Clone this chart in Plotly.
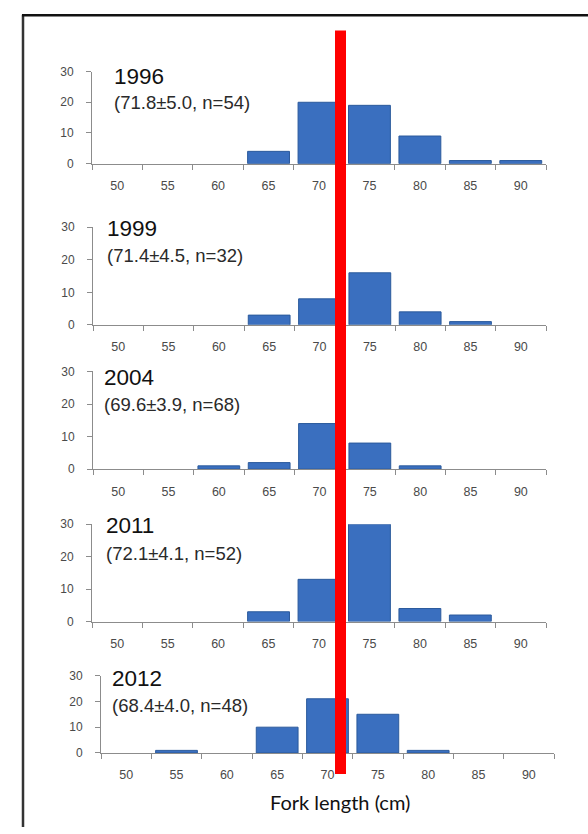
import plotly.graph_objects as go

W, H = 588, 834

# Fork-length bins (cm) and counts per survey year
length_bins = [50, 55, 60, 65, 70, 75, 80, 85, 90]
tick_labels = ["50", "55", "60", "65", "70", "75", "80", "85", "90"]
count_ticks = [0, 10, 20, 30]
years = ["1996", "1999", "2004", "2011", "2012"]
summaries = [
    "(71.8±5.0, n=54)",
    "(71.4±4.5, n=32)",
    "(69.6±3.9, n=68)",
    "(72.1±4.1, n=52)",
    "(68.4±4.0, n=48)",
]
counts_1996 = [0, 0, 0, 4, 20, 19, 9, 1, 1]
counts_1999 = [0, 0, 0, 3, 8, 16, 4, 1, 0]
counts_2004 = [0, 0, 1, 2, 14, 8, 1, 0, 0]
counts_2011 = [0, 0, 0, 3, 13, 30, 4, 2, 0]
counts_2012 = [0, 1, 0, 10, 21, 15, 1, 0, 0]
series = [counts_1996, counts_1999, counts_2004, counts_2011, counts_2012]

# panel boxes in pixels: left, right, top (value 30), bottom (value 0)
panels = [
    (92, 546, 65.7, 159.3),
    (93, 546, 224.0, 323.3),
    (93, 546, 370.7, 470.0),
    (92, 546, 526.0, 625.0),
    (101, 554, 680.0, 758.7),
]
# label positions: left x, year centre y, summary centre y
labels_pos = [
    (112, 70.5, 97),
    (105, 225, 252.5),
    (102, 376.5, 404),
    (104, 527.5, 555.5),
    (110, 682.5, 710),
]

half = (length_bins[1] - length_bins[0]) / 2
bin_edges = [b - half for b in length_bins] + [length_bins[-1] + half]

AXIS = "#8c8c8c"
BAR = "#3a6fbf"
BAR_EDGE = "#2b5a9c"
TICK_FONT = "#4a4a4a"

fig = go.Figure()
layout = dict(
    width=W,
    height=H,
    margin=dict(l=0, r=0, t=0, b=0),
    paper_bgcolor="white",
    plot_bgcolor="rgba(0,0,0,0)",
    showlegend=False,
    bargap=0.17,
    font=dict(family="Liberation Sans, Arial, sans-serif", color="#444"),
)

annotations = []
n_panels = len(series)
for i, (vals, (xl, xr, yt, yb)) in enumerate(zip(series, panels)):
    n = "" if i == 0 else str(i + 1)
    lab = str(i + 1 + n_panels)
    fig.add_trace(go.Bar(
        x=length_bins, y=vals,
        xaxis="x" + n, yaxis="y" + n,
        marker=dict(color=BAR,
                    line=dict(color=BAR_EDGE, width=[1 if v else 0 for v in vals])),
        hoverinfo="x+y",
    ))
    # axis with tick marks on the bin boundaries
    layout["xaxis" + n] = dict(
        domain=[xl / W, xr / W],
        anchor="y" + n,
        range=[bin_edges[0], bin_edges[-1]],
        tickmode="array", tickvals=bin_edges, ticktext=[""] * len(bin_edges),
        ticks="outside", ticklen=5, tickcolor=AXIS, tickwidth=1,
        showline=True, linecolor=AXIS, linewidth=1,
        showgrid=False, zeroline=False, fixedrange=True,
    )
    # companion axis carrying the bin labels at the bin centres
    layout["xaxis" + lab] = dict(
        domain=[xl / W, xr / W],
        anchor="y" + n,
        overlaying="x" + n,
        side="bottom",
        range=[bin_edges[0], bin_edges[-1]],
        tickmode="array", tickvals=length_bins, ticktext=tick_labels,
        ticks="", ticklabelstandoff=13,
        tickfont=dict(size=12.5, color=TICK_FONT),
        showline=False, showgrid=False, zeroline=False, fixedrange=True,
    )
    fig.add_trace(go.Scatter(
        x=[length_bins[0]], y=[0], xaxis="x" + lab, yaxis="y" + n,
        mode="markers", marker=dict(opacity=0), hoverinfo="skip",
    ))
    layout["yaxis" + n] = dict(
        domain=[1 - yb / H, 1 - yt / H],
        anchor="x" + n,
        range=[0, 30],
        tickmode="array", tickvals=count_ticks,
        ticks="outside", ticklen=5, tickcolor=AXIS, tickwidth=1,
        ticklabelstandoff=10,
        tickfont=dict(size=12, color=TICK_FONT),
        showline=True, linecolor=AXIS, linewidth=1,
        showgrid=False, zeroline=False, fixedrange=True,
    )
    lx, yy, ys = labels_pos[i]
    annotations.append(dict(
        text=years[i], x=lx / W, y=1 - yy / H, xref="paper", yref="paper",
        xanchor="left", yanchor="middle", showarrow=False,
        font=dict(size=22.5, color="#111"),
    ))
    annotations.append(dict(
        text=summaries[i], x=lx / W, y=1 - ys / H, xref="paper", yref="paper",
        xanchor="left", yanchor="middle", showarrow=False,
        font=dict(size=18.5, color="#2a2a2a"),
    ))

annotations.append(dict(
    text="Fork length (cm)", x=340 / W, y=1 - 809 / H, xref="paper", yref="paper",
    xanchor="center", yanchor="middle", showarrow=False,
    font=dict(family="Lato, Carlito, sans-serif", size=20, color="#111"),
))
layout["annotations"] = annotations

layout["shapes"] = [
    # outer frame (left and top edges)
    dict(type="line", xref="paper", yref="paper", x0=23 / W, x1=23 / W,
         y0=0, y1=1 - 8 / H, line=dict(color="#333", width=2.5)),
    dict(type="line", xref="paper", yref="paper", x0=22 / W, x1=1,
         y0=1 - 8.5 / H, y1=1 - 8.5 / H, line=dict(color="#111", width=2.5)),
    # red reference bar across all panels
    dict(type="rect", xref="paper", yref="paper", layer="above",
         x0=335 / W, x1=346 / W, y0=1 - 780 / H, y1=1 - 24 / H,
         fillcolor="#ff0000", line=dict(width=0)),
]

fig.update_layout(**layout)
fig.write_html("out.html")
